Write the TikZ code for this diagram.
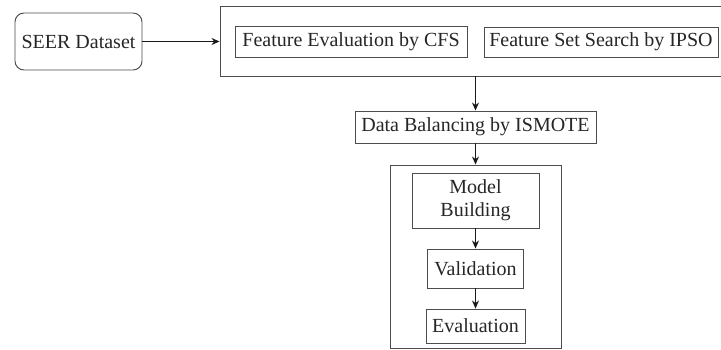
\documentclass[tikz,border=0pt]{standalone}
\usepackage{fontspec}
\setmainfont{Liberation Serif}
\usetikzlibrary{arrows.meta}
\begin{document}
\begin{tikzpicture}[x=1pt,y=-1pt,
  box/.style={draw=black!70, line width=0.95pt, inner sep=0pt, align=center,
    font=\fontsize{20}{23}\selectfont, text=black!85},
  arr/.style={draw=black!90, line width=1.3pt, -{Stealth[length=8pt,width=7pt]}}]
\useasboundingbox (0,0) rectangle (721,350);
\fill[white] (0,0) rectangle (721,350);
\node[box, rounded corners=9pt, minimum width=127pt, minimum height=57pt] (seer) at (78.5,41.5) {SEER Dataset};
\node[box, minimum width=520pt, minimum height=70pt] (top) at (480,41) {};
\node[box, minimum width=232pt, minimum height=31pt] (cfs) at (351,41.5) {Feature Evaluation by CFS};
\node[box, minimum width=234pt, minimum height=30pt] (ipso) at (601,42) {Feature Set Search by IPSO};
\node[box, minimum width=241pt, minimum height=32pt] (db) at (475.5,127) {Data Balancing by ISMOTE};
\node[box, minimum width=171pt, minimum height=183pt] (low) at (475.5,256.5) {};
\node[box, minimum width=127pt, minimum height=55pt] (mb) at (475.5,200.5) {Model\\Building};
\node[box, minimum width=96pt, minimum height=39pt] (val) at (475.5,268.5) {Validation};
\node[box, minimum width=99pt, minimum height=34pt] (ev) at (475.5,326) {Evaluation};
\draw[arr] (seer.east) -- (seer.east -| top.west);
\draw[arr] (top.south -| db.north) -- (db.north);
\draw[arr] (db.south) -- (low.north);
\draw[arr] (mb.south) -- (val.north);
\draw[arr] (val.south) -- (ev.north);
\end{tikzpicture}
\end{document}
